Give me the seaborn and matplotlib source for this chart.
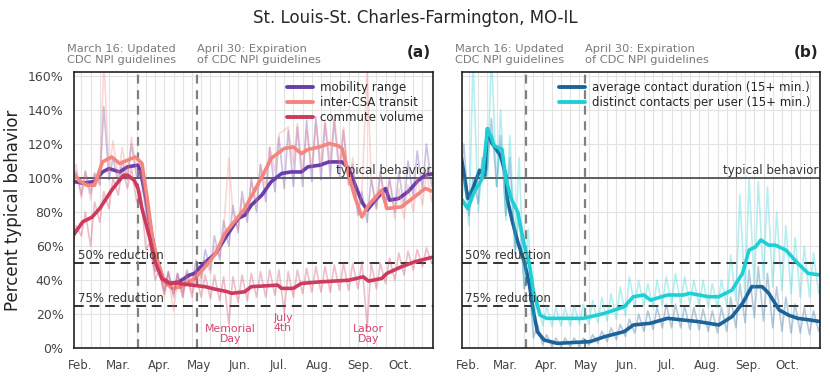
import pandas as pd
import seaborn as sns
import matplotlib.pyplot as plt
import matplotlib.dates as mdates
from matplotlib.ticker import FuncFormatter

# smoothed series, key points (date, % of typical)
mob_dates = ["2020-01-27", "2020-02-03", "2020-02-12", "2020-02-18", "2020-02-23", "2020-03-02",
             "2020-03-08", "2020-03-16", "2020-03-18", "2020-03-22", "2020-03-26", "2020-03-30",
             "2020-04-04", "2020-04-09", "2020-04-16", "2020-04-24", "2020-04-28", "2020-05-05",
             "2020-05-14", "2020-05-21", "2020-05-26", "2020-05-31", "2020-06-05", "2020-06-10",
             "2020-06-18", "2020-06-25", "2020-07-03", "2020-07-10", "2020-07-18", "2020-07-23",
             "2020-08-01", "2020-08-08", "2020-08-18", "2020-08-23", "2020-08-28", "2020-09-02",
             "2020-09-06", "2020-09-10", "2020-09-20", "2020-09-23", "2020-09-30", "2020-10-07",
             "2020-10-15", "2020-10-20", "2020-10-27"]
mob_vals = [98, 97, 98, 103.6, 105.6, 103.6, 106.6, 107.6, 103.6, 88, 68.4, 52.8, 41, 38.1, 39, 43,
            44, 49.9, 55.7, 64.5, 70.4, 76.3, 78.2, 84.1, 90, 97.8, 102.7, 103.6, 103.6, 106.6,
            107.6, 109.5, 109.5, 105.6, 95.8, 86, 81.2, 85, 93.9, 87, 88, 92, 98.8, 101.7, 102.7]

trans_dates = ["2020-01-27", "2020-01-31", "2020-02-06", "2020-02-12", "2020-02-18", "2020-02-25",
               "2020-03-02", "2020-03-08", "2020-03-14", "2020-03-19", "2020-03-23", "2020-03-27",
               "2020-03-31", "2020-04-05", "2020-04-11", "2020-04-18", "2020-04-28", "2020-05-06",
               "2020-05-14", "2020-05-21", "2020-05-28", "2020-06-05", "2020-06-12", "2020-06-20",
               "2020-06-25", "2020-07-05", "2020-07-12", "2020-07-18", "2020-07-23", "2020-08-01",
               "2020-08-08", "2020-08-15", "2020-08-18", "2020-08-23", "2020-08-28", "2020-09-02",
               "2020-09-07", "2020-09-17", "2020-09-21", "2020-10-02", "2020-10-12", "2020-10-20",
               "2020-10-27"]
trans_vals = [102.7, 98.8, 95.8, 95.8, 109.5, 112.4, 108.6, 110.5, 112.4, 108.6, 88, 64.5, 50.8,
              39, 35.2, 36.2, 41, 47.9, 55.7, 67.5, 74.3, 82, 92, 103.6, 111.5, 117.4, 118.3,
              114.4, 116.8, 118.3, 120.3, 119, 117.4, 101.7, 88, 77.2, 84, 92.9, 82.1, 83.1, 89,
              93.9, 91.9]

comm_dates = ["2020-01-27", "2020-02-03", "2020-02-10", "2020-02-16", "2020-02-25", "2020-03-05",
              "2020-03-08", "2020-03-13", "2020-03-16", "2020-03-19", "2020-03-25", "2020-03-29",
              "2020-04-03", "2020-04-09", "2020-04-16", "2020-04-26", "2020-05-06", "2020-05-11",
              "2020-05-23", "2020-05-26", "2020-06-05", "2020-06-10", "2020-06-30", "2020-07-03",
              "2020-07-12", "2020-07-18", "2020-08-01", "2020-08-23", "2020-09-03", "2020-09-07",
              "2020-09-17", "2020-09-21", "2020-10-02", "2020-10-12", "2020-10-27"]
comm_vals = [66.5, 74.3, 77, 82.2, 92.9, 101.7, 101.7, 98.8, 93.9, 82.2, 64.5, 50.8, 41, 38.1, 38.1,
             37.1, 36.2, 35.2, 33.2, 32.3, 33.2, 36.2, 37.1, 35.2, 35.2, 38.1, 39, 40, 42, 39.5,
             41, 44, 47.9, 50.8, 53.8]

dur_dates = ["2020-01-27", "2020-02-01", "2020-02-05", "2020-02-10", "2020-02-14", "2020-02-16",
             "2020-02-19", "2020-02-26", "2020-03-01", "2020-03-02", "2020-03-06", "2020-03-10",
             "2020-03-15", "2020-03-19", "2020-03-22", "2020-03-25", "2020-03-30", "2020-04-09",
             "2020-05-04", "2020-05-15", "2020-05-30", "2020-06-06", "2020-06-19", "2020-07-02",
             "2020-07-14", "2020-07-26", "2020-08-10", "2020-08-20", "2020-08-28", "2020-09-04",
             "2020-09-12", "2020-09-17", "2020-09-25", "2020-10-02", "2020-10-09", "2020-10-17",
             "2020-10-27"]
dur_vals = [113, 88, 94, 104.6, 101.7, 129, 121, 113, 101.7, 88, 74.3, 62.6, 50.8, 37, 21.5, 9.7,
            4.9, 2.9, 3.9, 6.8, 9.8, 13.7, 14.7, 17.6, 16.6, 15.6, 13.7, 18.6, 26.4, 36.2, 36.2,
            32.3, 22.5, 19.5, 17.6, 16.8, 15.6]

cnt_dates = ["2020-01-27", "2020-02-01", "2020-02-06", "2020-02-12", "2020-02-16", "2020-02-19",
             "2020-02-21", "2020-02-27", "2020-03-01", "2020-03-05", "2020-03-10", "2020-03-15",
             "2020-03-19", "2020-03-22", "2020-03-27", "2020-04-01", "2020-04-29", "2020-05-15",
             "2020-05-30", "2020-06-06", "2020-06-14", "2020-06-19", "2020-07-02", "2020-07-14",
             "2020-07-19", "2020-08-02", "2020-08-10", "2020-08-20", "2020-08-28", "2020-09-02",
             "2020-09-07", "2020-09-11", "2020-09-17", "2020-09-22", "2020-09-30", "2020-10-09",
             "2020-10-17", "2020-10-27"]
cnt_vals = [88, 82, 92, 99.7, 129, 124, 119, 117, 99.7, 88, 80, 60.6, 49, 33, 19.5, 17.6, 17.6,
            20.5, 24.4, 30.3, 31.3, 28.3, 31.3, 31.3, 32.3, 30.3, 30.3, 34.2, 44, 57.7, 59.6,
            63.6, 60.6, 60.6, 57.7, 50, 44, 43]

# raw daily lines, one weekend low (Sunday) and one midweek high (Wednesday) per week
mob_lo = [92, 90, 91, 96, 99, 97, 99, 100, 80, 45, 34, 32, 33, 37, 41, 46, 52, 60, 68, 74,
          80, 86, 92, 94, 95, 95, 98, 99, 101, 101, 96, 78, 74, 82, 85, 80, 83, 89, 93, 95]
mob_hi = [104, 104, 103, 142, 112, 110, 120, 102, 62, 47, 45, 44, 46, 52, 58, 66, 75, 84, 92, 100,
          108, 118, 124, 128, 130, 134, 136, 132, 134, 128, 108, 92, 100, 104, 100, 104, 110, 116, 120, 106]
trans_lo = [94, 88, 87, 96, 103, 100, 100, 104, 84, 46, 30, 22, 30, 33, 38, 44, 54, 112, 70, 78,
            86, 95, 104, 128, 108, 104, 106, 108, 110, 108, 96, 80, 165, 82, 82, 76, 76, 80, 84, 86]
trans_hi = [108, 104, 102, 170, 122, 118, 124, 104, 70, 46, 42, 41, 42, 46, 52, 60, 70, 80, 88, 98,
            108, 118, 126, 130, 132, 128, 132, 134, 136, 130, 112, 92, 100, 102, 98, 94, 96, 100, 104, 100]
comm_lo = [58, 66, 60, 74, 82, 90, 94, 86, 58, 40, 32, 30, 30, 30, 30, 29, 28, 14, 27, 28,
           30, 30, 31, 21, 30, 32, 33, 33, 33, 34, 34, 35, 12, 35, 38, 40, 43, 46, 48, 50]
comm_hi = [72, 80, 86, 92, 100, 106, 106, 92, 62, 46, 45, 44, 44, 43, 43, 43, 42, 42, 43, 44,
           45, 46, 46, 45, 46, 47, 48, 48, 49, 50, 50, 51, 50, 50, 53, 56, 57, 58, 59, 58]
dur_lo = [100, 78, 85, 105, 95, 78, 55, 35, 6, 2, 1, 1, 1, 1, 2, 3, 4, 5, 7, 9,
          10, 11, 12, 12, 12, 11, 11, 10, 9, 10, 12, 15, 18, 16, 12, 10, 9, 9, 8, 10]
dur_hi = [120, 100, 112, 135, 125, 112, 80, 45, 14, 8, 6, 6, 6, 6, 8, 10, 12, 14, 17, 20,
          22, 24, 26, 26, 25, 24, 23, 22, 24, 30, 38, 46, 48, 44, 36, 30, 26, 24, 22, 20]
cnt_lo = [70, 72, 80, 100, 95, 75, 60, 35, 16, 13, 13, 13, 13, 14, 14, 15, 16, 17, 19, 24,
          25, 24, 25, 26, 26, 26, 25, 24, 24, 25, 28, 30, 35, 40, 36, 34, 32, 30, 30, 32]
cnt_hi = [100, 170, 110, 175, 140, 125, 112, 70, 30, 25, 24, 24, 25, 26, 28, 30, 32, 36, 42, 40,
          38, 40, 42, 44, 42, 40, 40, 38, 40, 55, 90, 100, 98, 95, 80, 72, 65, 60, 56, 50]

month_labels = ["Feb.", "Mar.", "Apr.", "May", "Jun.", "Jul.", "Aug.", "Sep.", "Oct."]
holidays = ["Memorial\nDay", "July\n4th", "Labor\nDay"]
holiday_dates = ["2020-05-25", "2020-07-04", "2020-09-07"]
holiday_y = [8.4, 15, 8.4]

sns.set_style("white")
plt.rcParams["font.family"] = ["DejaVu Sans"]

C_MOB, C_TRANS, C_COMM = "#6a3eaa", "#f4857f", "#cc3a5e"
C_DUR, C_CNT = "#1c6399", "#1fcfd6"

sundays = pd.date_range("2020-01-26", periods=len(mob_lo), freq="7D")
wednesdays = sundays + pd.Timedelta(days=3)


def raw_frame(lo, hi):
    df = pd.DataFrame({"date": list(sundays) + list(wednesdays), "value": lo + hi})
    return df.sort_values("date")


def draw(ax, dates, vals, lo, hi, color, label):
    raw = raw_frame(lo, hi)
    sns.lineplot(x=raw["date"], y=raw["value"], ax=ax, color=color, lw=1.2, alpha=0.33)
    sns.lineplot(x=pd.to_datetime(dates), y=vals, ax=ax, color=color, lw=2.6, label=label)


fig = plt.figure(figsize=(8.3, 3.78), dpi=100)
ax1 = fig.add_axes([0.0892, 0.0786, 0.4325, 0.7317])
ax2 = fig.add_axes([0.5563, 0.0786, 0.4317, 0.7317], sharey=ax1)

draw(ax1, mob_dates, mob_vals, mob_lo, mob_hi, C_MOB, "mobility range")
draw(ax1, trans_dates, trans_vals, trans_lo, trans_hi, C_TRANS, "inter-CSA transit")
draw(ax1, comm_dates, comm_vals, comm_lo, comm_hi, C_COMM, "commute volume")
draw(ax2, dur_dates, dur_vals, dur_lo, dur_hi, C_DUR, "average contact duration (15+ min.)")
draw(ax2, cnt_dates, cnt_vals, cnt_lo, cnt_hi, C_CNT, "distinct contacts per user (15+ min.)")

mar16 = pd.Timestamp("2020-03-16")
apr30 = pd.Timestamp("2020-04-30")

for ax, tag in [(ax1, "(a)"), (ax2, "(b)")]:
    ax.set_xlim(pd.Timestamp("2020-01-27 10:00"), pd.Timestamp("2020-10-26"))
    ax.set_ylim(0, 162.5)
    ax.set_yticks(range(0, 161, 20))
    ax.yaxis.set_major_formatter(FuncFormatter(lambda v, p: f"{v:.0f}%"))
    ax.xaxis.set_major_locator(mdates.MonthLocator(bymonth=range(2, 11)))
    ax.set_xticks(ax.get_xticks())
    ax.set_xticklabels(month_labels)
    ax.xaxis.set_minor_locator(mdates.WeekdayLocator(byweekday=mdates.SU))
    ax.grid(which="minor", axis="x", color="#e3e3e3", lw=0.8)
    ax.grid(which="major", axis="y", color="#e3e3e3", lw=0.8)
    ax.tick_params(which="minor", length=0)
    ax.tick_params(axis="x", which="major", labelsize=8.5, colors="#444444", length=4, color="#222222")
    ax.tick_params(axis="y", which="major", labelsize=9, colors="#444444", length=4, color="#222222")
    ax.set_xlabel("")
    ax.set_ylabel("")
    for s in ax.spines.values():
        s.set_color("#222222")
        s.set_linewidth(1.2)

    ax.axhline(100, color="#444444", lw=1.2, zorder=1)
    ax.axhline(50, color="#333333", lw=1.4, ls=(0, (5, 3)), zorder=1)
    ax.axhline(25, color="#333333", lw=1.4, ls=(0, (5, 3)), zorder=1)
    ax.axvline(mar16, color="#808080", lw=1.6, ls=(0, (4, 3)), zorder=1)
    ax.axvline(apr30, color="#808080", lw=1.6, ls=(0, (4, 3)), zorder=1)

    ax.text(0.995, 100.6, "typical behavior", transform=ax.get_yaxis_transform(),
            ha="right", va="bottom", fontsize=8.5, color="#333333")
    ax.text(0.01, 50.6, "50% reduction", transform=ax.get_yaxis_transform(),
            ha="left", va="bottom", fontsize=8.5, color="#333333")
    ax.text(0.01, 25.6, "75% reduction", transform=ax.get_yaxis_transform(),
            ha="left", va="bottom", fontsize=8.5, color="#333333")

    ax.text(pd.Timestamp("2020-04-14"), 1.025, "March 16: Updated\nCDC NPI guidelines",
            transform=ax.get_xaxis_transform(), ha="right", va="bottom",
            fontsize=8.2, color="#7a7a7a", linespacing=1.1)
    ax.text(apr30, 1.025, "April 30: Expiration\nof CDC NPI guidelines",
            transform=ax.get_xaxis_transform(), ha="left", va="bottom",
            fontsize=8.2, color="#7a7a7a", linespacing=1.1)
    ax.text(0.995, 1.07, tag, transform=ax.transAxes, ha="right", va="center",
            fontsize=11, fontweight="bold", color="#222222")

    ax.legend(loc="upper right", frameon=False, fontsize=8.5, handlelength=2.2,
              handletextpad=0.6, labelspacing=0.15, borderaxespad=0.4)
    for h in ax.get_legend().get_lines():
        h.set_linewidth(2.8)

for name, d, y in zip(holidays, holiday_dates, holiday_y):
    ax1.text(pd.Timestamp(d), y, name, ha="center", va="center", fontsize=7.8,
             color="#d4436b", linespacing=1.0)

plt.setp(ax2.get_yticklabels(), visible=False)
ax1.set_ylabel("Percent typical behavior", fontsize=12, color="#222222", labelpad=4)
fig.suptitle("St. Louis-St. Charles-Farmington, MO-IL", y=0.975, fontsize=12)

plt.savefig("out.png", dpi=100)
plt.close()
